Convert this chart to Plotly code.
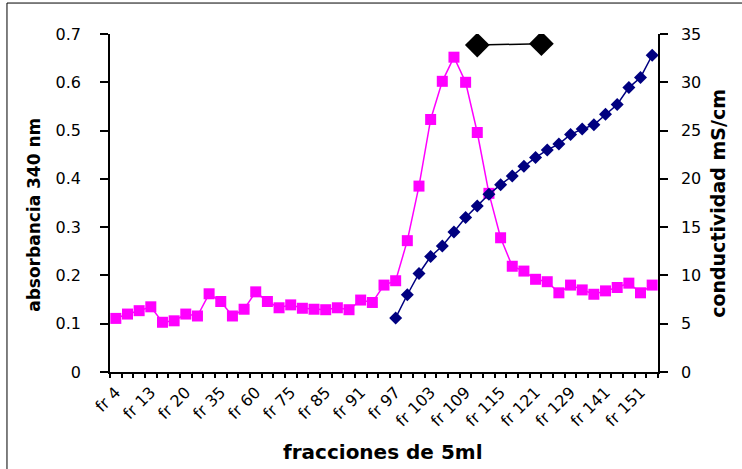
import plotly.graph_objects as go

# ---- data ----
tick_labels = ["fr 4", "fr 13", "fr 20", "fr 35", "fr 60", "fr 75", "fr 85", "fr 91",
               "fr 97", "fr 103", "fr 109", "fr 115", "fr 121", "fr 129", "fr 141", "fr 151"]
n_fractions = 47
fraction_index = list(range(n_fractions))

absorbance = [0.111, 0.120, 0.127, 0.135, 0.103, 0.106, 0.120, 0.116, 0.162, 0.146,
              0.116, 0.130, 0.166, 0.146, 0.133, 0.139, 0.132, 0.130, 0.129, 0.133,
              0.129, 0.149, 0.144, 0.180, 0.189, 0.272, 0.385, 0.523, 0.602, 0.652,
              0.600, 0.496, 0.370, 0.278, 0.219, 0.209, 0.192, 0.187, 0.164, 0.180,
              0.170, 0.161, 0.168, 0.175, 0.184, 0.164, 0.180]

cond_index = list(range(24, 47))
conductivity = [5.6, 8.0, 10.2, 11.95, 13.05, 14.5, 16.0, 17.2, 18.4, 19.4, 20.3, 21.3,
                22.2, 23.0, 23.6, 24.6, 25.15, 25.6, 26.7, 27.7, 29.45, 30.5, 32.8]

black_index = [31, 36.5]
black_values = [33.85, 34.0]

# ---- figure ----
fig = go.Figure()
fig.add_trace(go.Scatter(x=fraction_index, y=absorbance, mode="lines+markers",
                         line=dict(color="#FF00FF", width=1.5),
                         marker=dict(symbol="square", size=11, color="#FF00FF"),
                         yaxis="y", showlegend=False))
fig.add_trace(go.Scatter(x=cond_index, y=conductivity, mode="lines+markers",
                         line=dict(color="#000080", width=1.5),
                         marker=dict(symbol="diamond", size=10, color="#000080"),
                         yaxis="y2", showlegend=False))
fig.add_trace(go.Scatter(x=black_index, y=black_values, mode="lines+markers",
                         line=dict(color="#000000", width=1.5),
                         marker=dict(symbol="diamond", size=19, color="#000000"),
                         yaxis="y2", showlegend=False))

xr = [-0.5, n_fractions - 0.5]
boundaries = [i - 0.5 for i in range(n_fractions + 1)]
tick_font = dict(family="DejaVu Sans", size=16, color="black")
axis_common = dict(showgrid=False, zeroline=False, linecolor="black", linewidth=1.5,
                   tickcolor="black", tickwidth=1.5)

fig.update_layout(
    width=742, height=469,
    margin=dict(l=110, r=84, t=34, b=97),
    paper_bgcolor="white", plot_bgcolor="white",
    xaxis=dict(range=xr, tickmode="array", tickvals=fraction_index[::3], ticktext=tick_labels,
               ticks="", tickangle=-45, showline=True, linecolor="black", linewidth=1.5,
               tickfont=dict(family="DejaVu Sans", size=16, color="black"),
               ticklabelstandoff=3,
               showgrid=False, zeroline=False,
               minor=dict(tickmode="array", tickvals=boundaries, ticks="outside",
                          ticklen=4, tickwidth=1.5, tickcolor="black", showgrid=False)),
    xaxis3=dict(range=xr, overlaying="x", anchor="y", side="bottom", tickmode="array",
                tickvals=boundaries, ticks="inside", ticklen=4, showticklabels=False,
                showline=False, showgrid=False, zeroline=False, tickcolor="black", tickwidth=1.5),
    yaxis=dict(range=[0, 0.7], dtick=0.1, ticks="outside", ticklen=8,
               showline=True, tickfont=tick_font, ticklabelstandoff=16, **axis_common),
    yaxis3=dict(range=[0, 0.7], dtick=0.1, overlaying="y", anchor="x", side="left",
                ticks="inside", ticklen=8, showticklabels=False, showline=False,
                showgrid=False, zeroline=False, tickcolor="black", tickwidth=1.5),
    yaxis2=dict(range=[0, 35], dtick=5, overlaying="y", anchor="x", side="right",
                ticks="outside", ticklen=8, showline=True, tickfont=tick_font,
                ticklabelstandoff=10, **axis_common),
    yaxis4=dict(range=[0, 35], dtick=5, overlaying="y", anchor="x", side="right",
                ticks="inside", ticklen=8, showticklabels=False, showline=False,
                showgrid=False, zeroline=False, tickcolor="black", tickwidth=1.5),
)

fig.add_annotation(text="<b>absorbancia 340 nm</b>", xref="paper", yref="paper",
                   x=-0.1387, y=0.465, textangle=-90, showarrow=False,
                   font=dict(family="DejaVu Sans", size=17, color="black"),
                   xanchor="center", yanchor="middle")
fig.add_annotation(text="<b>conductividad mS/cm</b>", xref="paper", yref="paper",
                   x=1.1095, y=0.4975, textangle=-90, showarrow=False,
                   font=dict(family="DejaVu Sans", size=19, color="black"),
                   xanchor="center", yanchor="middle")
fig.add_annotation(text="<b>fracciones de 5ml</b>", xref="paper", yref="paper",
                   x=0.498, y=-0.2356, showarrow=False,
                   font=dict(family="DejaVu Sans", size=20, color="black"),
                   xanchor="center", yanchor="middle")

# chart area border
fig.add_shape(type="rect", xref="paper", yref="paper", x0=-0.188, x1=1.16, y0=-0.295, y1=1.0916,
              line=dict(color="black", width=1), layer="below")

fig.write_html("out.html")
